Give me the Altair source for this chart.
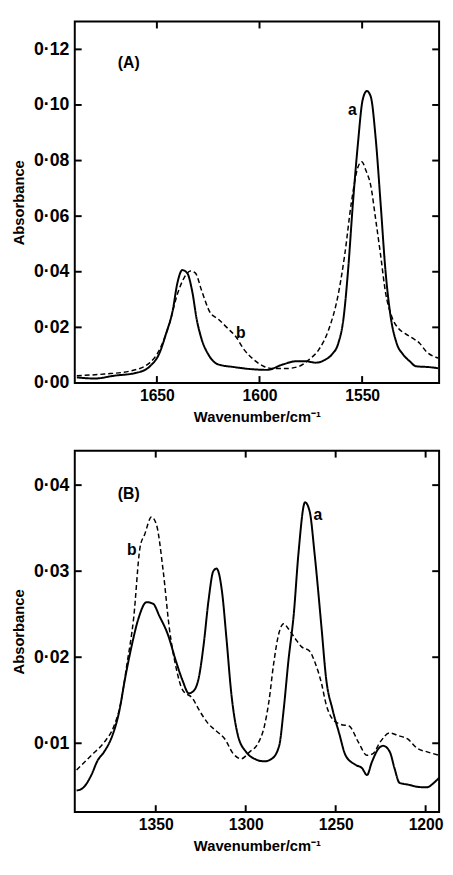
import altair as alt
import pandas as pd

# ---------------- Panel A data ----------------
A_a_wn = [1689.0, 1680.3, 1670.8, 1659.7, 1653.4, 1648.7, 1645.5, 1642.3, 1640.0, 1637.6, 1635.2, 1632.8,
          1630.5, 1628.1, 1624.9, 1620.2, 1612.3, 1602.8, 1596.4, 1588.5, 1582.2, 1577.4, 1572.7, 1567.9,
          1564.8, 1561.6, 1559.2, 1556.8, 1554.5, 1552.1, 1549.7, 1547.7, 1545.8, 1543.4, 1541.0, 1538.7,
          1536.3, 1533.2, 1530.0, 1526.8, 1523.7, 1517.4, 1513.0]
A_a_abs = [0.002, 0.0016, 0.0026, 0.0037, 0.006, 0.0108, 0.0178, 0.026, 0.036, 0.0406, 0.0395, 0.033, 0.0225,
           0.0155, 0.0102, 0.0067, 0.0057, 0.0049, 0.0047, 0.0067, 0.0078, 0.0078, 0.0073, 0.0084, 0.0102,
           0.0143, 0.0225, 0.041, 0.0646, 0.0857, 0.102, 0.105, 0.103, 0.088, 0.0646, 0.041, 0.0248, 0.0143,
           0.0102, 0.0078, 0.006, 0.0057, 0.0053]
A_b_wn = [1689.0, 1675.6, 1662.9, 1653.4, 1648.7, 1643.9, 1640.0, 1636.8, 1633.6, 1631.2, 1628.1, 1624.1,
          1620.2, 1615.4, 1611.5, 1607.5, 1602.8, 1598.0, 1593.3, 1586.9, 1580.6, 1575.9, 1571.1, 1566.4,
          1561.6, 1558.5, 1555.3, 1552.1, 1550.2, 1548.1, 1545.8, 1543.4, 1541.0, 1538.7, 1535.5, 1532.3,
          1529.2, 1525.2, 1522.0, 1518.9, 1513.0]
A_b_abs = [0.0026, 0.0032, 0.0043, 0.0073, 0.012, 0.0213, 0.032, 0.0377, 0.0403, 0.0395, 0.033, 0.0254, 0.023,
           0.0196, 0.0166, 0.012, 0.0084, 0.006, 0.0052, 0.0052, 0.006, 0.0084, 0.012, 0.019, 0.032, 0.046,
           0.0646, 0.0775, 0.0796, 0.0763, 0.071, 0.0588, 0.046, 0.033, 0.0237, 0.0196, 0.0178, 0.016, 0.0143,
           0.0114, 0.009]

# ---------------- Panel B data ----------------
B_a_wn = [1394.0, 1390.5, 1385.8, 1382.3, 1378.7, 1374.1, 1370.5, 1366.9, 1363.3, 1359.6, 1355.1, 1351.4,
          1348.0, 1343.2, 1338.7, 1335.1, 1331.6, 1328.5, 1326.0, 1323.4, 1320.6, 1318.0, 1316.2, 1313.1,
          1310.7, 1308.0, 1304.3, 1299.8, 1295.2, 1289.6, 1285.5, 1281.4, 1278.9, 1276.3, 1273.2, 1270.7,
          1267.0, 1264.4, 1261.7, 1257.8, 1255.4, 1251.7, 1248.1, 1244.5, 1239.0, 1235.3, 1232.6, 1229.9,
          1226.1, 1223.6, 1219.9, 1217.3, 1214.5, 1210.0, 1202.5, 1199.1, 1195.4, 1192.5]
B_a_abs = [0.0045, 0.0048, 0.0063, 0.008, 0.009, 0.0109, 0.0135, 0.0177, 0.0214, 0.0245, 0.0264, 0.0262,
           0.0248, 0.0226, 0.0195, 0.0173, 0.0158, 0.0162, 0.0177, 0.0214, 0.0267, 0.030, 0.0303, 0.0275,
           0.0222, 0.0158, 0.0109, 0.009, 0.0082, 0.0079, 0.0082, 0.0097, 0.0139, 0.0195, 0.0252, 0.032,
           0.038, 0.0369, 0.032, 0.0233, 0.0177, 0.0139, 0.0112, 0.0086, 0.0075, 0.0071, 0.0063, 0.0078,
           0.0094, 0.0097, 0.009, 0.0071, 0.0054, 0.0052, 0.0049, 0.0049, 0.0054, 0.006]
B_b_wn = [1394.0, 1385.8, 1378.7, 1373.2, 1369.5, 1366.0, 1362.3, 1358.7, 1356.1, 1352.4, 1349.6, 1345.9,
          1342.4, 1338.7, 1335.1, 1329.5, 1326.0, 1321.3, 1316.2, 1311.6, 1307.0, 1302.5, 1297.8, 1293.4,
          1289.6, 1287.0, 1284.5, 1281.4, 1278.9, 1276.3, 1272.6, 1268.9, 1264.4, 1261.7, 1257.8, 1255.4,
          1251.7, 1247.2, 1242.5, 1237.3, 1232.6, 1229.2, 1225.4, 1219.9, 1215.4, 1210.0, 1204.6, 1199.1,
          1192.5]
B_b_abs = [0.0069, 0.0086, 0.0101, 0.012, 0.0146, 0.0192, 0.0245, 0.0328, 0.0343, 0.0363, 0.0354, 0.0301,
           0.0233, 0.0188, 0.0162, 0.0152, 0.0139, 0.0124, 0.0114, 0.0105, 0.0088, 0.0082, 0.009, 0.0099,
           0.012, 0.015, 0.0192, 0.0229, 0.0239, 0.0233, 0.0222, 0.0212, 0.0207, 0.0195, 0.0169, 0.0146,
           0.0128, 0.0122, 0.012, 0.0101, 0.0086, 0.0088, 0.0101, 0.0112, 0.0109, 0.0105, 0.0094, 0.009,
           0.0086]

# ---------------- axes / annotations ----------------
A_xdomain = [1512.5, 1690]
A_ydomain = [0.0, 0.130]
A_xticks = [1650, 1600, 1550]
A_yticks = [0.0, 0.02, 0.04, 0.06, 0.08, 0.10, 0.12]
A_text = ["(A)", "a", "b"]
A_text_wn = [1663.7, 1554.8, 1609.1]
A_text_abs = [0.115, 0.098, 0.0178]

B_xdomain = [1192.5, 1395]
B_ydomain = [0.002, 0.044]
B_xticks = [1350, 1300, 1250, 1200]
B_yticks = [0.01, 0.02, 0.03, 0.04]
B_text = ["(B)", "a", "b"]
B_text_wn = [1365, 1259.9, 1363.3]
B_text_abs = [0.039, 0.0365, 0.0324]

W, H = 371, 368
TICK = 7
FONT = "Liberation Sans"


def panel(a_wn, a_abs, b_wn, b_abs, xdom, ydom, xticks, yticks, txt, twn, tabs):
    df = pd.concat([
        pd.DataFrame({"wn": a_wn, "abs": a_abs, "s": "a"}),
        pd.DataFrame({"wn": b_wn, "abs": b_abs, "s": "b"}),
    ])
    xs = alt.Scale(domain=xdom, reverse=True, nice=False, zero=False)
    ys = alt.Scale(domain=ydom, nice=False, zero=False)
    xax = alt.Axis(values=xticks, format="d", title="Wavenumber/cm⁻¹", grid=False, ticks=False,
                   domain=False, labelPadding=5, titlePadding=6, labelFontSize=16)
    yax = alt.Axis(values=yticks, grid=False, ticks=False, domain=False, labelPadding=6,
                   labelExpr="replace(format(datum.value, '.2f'), '.', '·')",
                   labelFontSize=18,
                   title="Absorbance", titlePadding=4, minExtent=45, maxExtent=45)

    lines = alt.Chart(df).mark_line(color="black", interpolate="monotone").encode(
        x=alt.X("wn:Q", scale=xs, axis=xax),
        y=alt.Y("abs:Q", scale=ys, axis=yax),
        detail="s:N",
        strokeDash=alt.StrokeDash("s:N", scale=alt.Scale(domain=["a", "b"], range=[[1, 0], [5, 3]]),
                                  legend=None),
        strokeWidth=alt.StrokeWidth("s:N", scale=alt.Scale(domain=["a", "b"], range=[2.0, 1.5]),
                                    legend=None),
    )

    ydf = pd.DataFrame({"v": yticks})
    xdf = pd.DataFrame({"v": xticks})
    lt = alt.Chart(ydf).mark_rule(color="black", strokeWidth=2).encode(
        y=alt.Y("v:Q", scale=ys), x=alt.value(0), x2=alt.value(TICK))
    rt = alt.Chart(ydf).mark_rule(color="black", strokeWidth=2).encode(
        y=alt.Y("v:Q", scale=ys), x=alt.value(W - TICK), x2=alt.value(W))
    bt = alt.Chart(xdf).mark_rule(color="black", strokeWidth=2).encode(
        x=alt.X("v:Q", scale=xs), y=alt.value(H - TICK), y2=alt.value(H))
    tt = alt.Chart(xdf).mark_rule(color="black", strokeWidth=2).encode(
        x=alt.X("v:Q", scale=xs), y=alt.value(0), y2=alt.value(TICK))

    tdf = pd.DataFrame({"t": txt, "wn": twn, "abs": tabs})
    texts = alt.Chart(tdf).mark_text(font=FONT, fontSize=16, fontWeight="bold", color="black").encode(
        x=alt.X("wn:Q", scale=xs), y=alt.Y("abs:Q", scale=ys), text="t:N")

    return alt.layer(lines, lt, rt, bt, tt, texts).properties(width=W, height=H)


pA = panel(A_a_wn, A_a_abs, A_b_wn, A_b_abs, A_xdomain, A_ydomain, A_xticks, A_yticks,
           A_text, A_text_wn, A_text_abs)
pB = panel(B_a_wn, B_a_abs, B_b_wn, B_b_abs, B_xdomain, B_ydomain, B_xticks, B_yticks,
           B_text, B_text_wn, B_text_abs)

chart = alt.vconcat(
    pA, pB, spacing=24, background="white",
    padding={"left": 3, "top": 4, "right": 0, "bottom": 0},
).configure_view(
    stroke="black", strokeWidth=2
).configure_axis(
    labelFont=FONT, labelFontWeight="bold", labelColor="black",
    titleFont=FONT, titleFontSize=15, titleFontWeight="bold", titleColor="black",
)

chart.save("out.html", embed_options={"renderer": "svg", "actions": False})
